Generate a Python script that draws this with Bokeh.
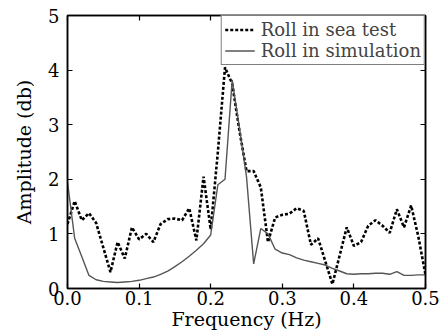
from bokeh.plotting import figure
from bokeh.models import Range1d, LinearAxis, FixedTicker, PrintfTickFormatter, Legend, LegendItem
from bokeh.embed import file_html
from bokeh.resources import INLINE

freq = [round(i * 0.01, 2) for i in range(51)]
sea_test = [1.18, 1.60, 1.25, 1.38, 1.20, 0.75, 0.30, 0.85, 0.55, 1.12,
            0.90, 1.00, 0.85, 1.18, 1.27, 1.28, 1.25, 1.47, 0.88, 2.05,
            1.08, 2.50, 4.05, 3.75, 2.90, 2.15, 2.15, 1.85, 0.85, 1.30,
            1.35, 1.37, 1.47, 1.42, 0.80, 0.92, 0.50, 0.08, 0.60, 1.12,
            0.78, 0.85, 1.15, 1.25, 1.15, 1.02, 1.45, 1.12, 1.52, 0.95,
            0.25]
simulation = [1.95, 0.92, 0.58, 0.24, 0.16, 0.13, 0.12, 0.11, 0.12, 0.13,
              0.15, 0.18, 0.21, 0.26, 0.32, 0.40, 0.49, 0.59, 0.70, 0.82,
              0.98, 1.90, 2.00, 3.82, 2.95, 2.05, 0.45, 1.10, 1.00, 0.72,
              0.65, 0.62, 0.56, 0.52, 0.49, 0.46, 0.43, 0.37, 0.32, 0.27,
              0.26, 0.27, 0.27, 0.28, 0.28, 0.26, 0.31, 0.24, 0.24, 0.25,
              0.25]
x_ticks = [0.0, 0.1, 0.2, 0.3, 0.4, 0.5]
y_ticks = [0, 1, 2, 3, 4, 5]
series_labels = ["Roll in sea test", "Roll in simulation"]

FONT = "DejaVu Serif"

p = figure(width=443, height=336, output_backend="svg", toolbar_location=None,
           x_range=Range1d(0, 0.5), y_range=Range1d(0, 5),
           min_border_left=67, min_border_right=18, min_border_top=15, min_border_bottom=48,
           x_axis_label="Frequency (Hz)", y_axis_label="Amplitude (db)")
p.grid.visible = False
p.outline_line_color = "black"
p.outline_line_width = 1.5
p.background_fill_color = "white"
p.border_fill_color = "white"

r_sea = p.line(freq, sea_test, line_color="black", line_width=2.6, line_dash="3 2")
r_sim = p.line(freq, simulation, line_color="#555555", line_width=1.4)

for ax in [p.xaxis[0], p.yaxis[0]]:
    ax.major_tick_in = 5
    ax.major_tick_out = 0
    ax.minor_tick_line_color = None
    ax.axis_line_width = 1.5
    ax.major_tick_line_width = 1.2
    ax.major_label_text_font = FONT
    ax.major_label_text_font_size = "18px"
    ax.major_label_text_color = "black"
    ax.axis_label_text_font = FONT
    ax.axis_label_text_font_size = "19px"
    ax.axis_label_text_font_style = "normal"
    ax.axis_label_text_color = "black"

p.xaxis[0].ticker = FixedTicker(ticks=x_ticks)
p.xaxis[0].formatter = PrintfTickFormatter(format="%.1f")
p.xaxis[0].major_label_standoff = 2
p.xaxis[0].axis_label_standoff = 0
p.yaxis[0].ticker = FixedTicker(ticks=y_ticks)
p.yaxis[0].formatter = PrintfTickFormatter(format="%d")
p.yaxis[0].major_label_standoff = 8
p.yaxis[0].axis_label_standoff = 10

top = LinearAxis(ticker=FixedTicker(ticks=x_ticks), major_label_text_color=None,
                 major_tick_in=5, major_tick_out=0, minor_tick_line_color=None,
                 axis_line_width=1.5, major_tick_line_width=1.2, major_label_standoff=0)
right = LinearAxis(ticker=FixedTicker(ticks=y_ticks), major_label_text_color=None,
                   major_tick_in=5, major_tick_out=0, minor_tick_line_color=None,
                   axis_line_width=1.5, major_tick_line_width=1.2, major_label_standoff=0)
p.add_layout(top, "above")
p.add_layout(right, "right")

legend = Legend(items=[LegendItem(label=series_labels[0], renderers=[r_sea]),
                       LegendItem(label=series_labels[1], renderers=[r_sim])],
                location="top_right", label_text_font=FONT, label_text_font_size="18px",
                label_text_line_height=0.8, label_height=17, glyph_height=17, glyph_width=30,
                label_standoff=6, spacing=0, padding=3, margin=0,
                border_line_color="black", border_line_width=1.2,
                background_fill_alpha=1.0)
p.add_layout(legend)

open("out.html", "w").write(file_html(p, INLINE))
